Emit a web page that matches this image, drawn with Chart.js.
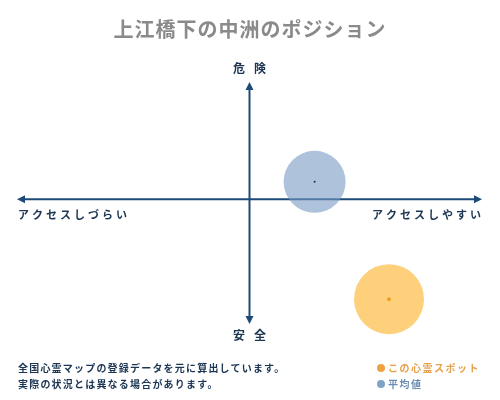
<!DOCTYPE html>
<html>
<head>
<meta charset="utf-8">
<script src="https://cdn.jsdelivr.net/npm/chart.js@4.4.0/dist/chart.umd.min.js"></script>
<style>
  html, body { margin: 0; padding: 0; background: #fff; }
  #wrap { position: relative; width: 500px; height: 400px; font-family: "Noto Sans CJK JP", sans-serif; }
  canvas { position: absolute; left: 0; top: 0; }
  .t { position: absolute; white-space: nowrap; }
  #title { left: 0; width: 500px; top: 14px; text-align: center; font-size: 20px; font-weight: bold; color: #8a8a8a; letter-spacing: 1px; }
  .foot { left: 18px; font-size: 10px; font-weight: bold; color: #1c3553; letter-spacing: 1.2px; }
  .leg { left: 377px; font-size: 10px; font-weight: bold; letter-spacing: 1.5px; }
  .dot { display: inline-block; width: 8px; height: 8px; border-radius: 50%; margin-right: 3px; vertical-align: -0px; }
</style>
</head>
<body>
<div id="wrap">
  <canvas id="c" width="500" height="400"></canvas>
  <div class="t" id="title">上江橋下の中洲のポジション</div>
  <div class="t foot" style="top:360px">全国心霊マップの登録データを元に算出しています。</div>
  <div class="t foot" style="top:376px">実際の状況とは異なる場合があります。</div>
  <div class="t leg" style="top:360px;color:#e9a04c"><span class="dot" style="background:#f0a040"></span>この心霊スポット</div>
  <div class="t leg" style="top:376px;color:#6b8db3"><span class="dot" style="background:#7fa3c8"></span>平均値</div>
</div>
<script>
const seriesNames = ["平均値", "この心霊スポット"];
const accessValues = [2.8, 6.0];    // x: access (negative = hard, positive = easy)
const dangerValues = [1.45, -8.25]; // y: danger (positive = dangerous)
const bubbleSizes = [31, 35];
const axisLabels = { top: "危険", bottom: "安全", left: "アクセスしづらい", right: "アクセスしやすい" };
const fillColors = ["rgba(120,155,195,0.6)", "rgba(254,196,90,0.8)"];
const dotColors = ["#1c2f45", "#f0a020"];

const axisPlugin = {
  id: "axes",
  beforeDatasetsDraw(chart) {
    const ctx = chart.ctx, xs = chart.scales.x, ys = chart.scales.y;
    const cx = xs.getPixelForValue(0), cy = ys.getPixelForValue(0);
    const l = xs.getPixelForValue(xs.min), r = xs.getPixelForValue(xs.max);
    const t = ys.getPixelForValue(ys.max), b = ys.getPixelForValue(ys.min);
    ctx.save();
    ctx.strokeStyle = "#1d4a78"; ctx.fillStyle = "#1d4a78"; ctx.lineWidth = 2;
    ctx.beginPath(); ctx.moveTo(l + 4, cy); ctx.lineTo(r - 4, cy);
    ctx.moveTo(cx, t + 4); ctx.lineTo(cx, b - 4); ctx.stroke();
    const head = (x, y, dx, dy) => {
      const s = 8, w = 4;
      ctx.beginPath();
      ctx.moveTo(x, y);
      ctx.lineTo(x - dx * s - dy * w, y - dy * s - dx * w);
      ctx.lineTo(x - dx * s + dy * w, y - dy * s + dx * w);
      ctx.closePath(); ctx.fill();
    };
    head(r, cy, 1, 0); head(l, cy, -1, 0); head(cx, t, 0, -1); head(cx, b, 0, 1);
    ctx.restore();
  },
  afterDatasetsDraw(chart) {
    const ctx = chart.ctx, xs = chart.scales.x, ys = chart.scales.y;
    const cx = xs.getPixelForValue(0), cy = ys.getPixelForValue(0);
    const l = xs.getPixelForValue(xs.min), r = xs.getPixelForValue(xs.max);
    const t = ys.getPixelForValue(ys.max), b = ys.getPixelForValue(ys.min);
    ctx.save();
    ctx.fillStyle = "#1c3553";
    ctx.textBaseline = "middle";
    ctx.font = "bold 12px 'Noto Sans CJK JP'";
    ctx.letterSpacing = "9px";
    ctx.textAlign = "center";
    ctx.fillText(axisLabels.top, cx + 4.5, t - 14);
    ctx.fillText(axisLabels.bottom, cx + 4.5, b + 11);
    ctx.font = "bold 11px 'Noto Sans CJK JP'";
    ctx.letterSpacing = "3px";
    ctx.textAlign = "left";
    ctx.fillText(axisLabels.left, l + 1, cy + 15);
    ctx.textAlign = "right";
    ctx.fillText(axisLabels.right, r + 2, cy + 15);
    chart.data.datasets.forEach((ds, i) => {
      const p = ds.data[0];
      ctx.fillStyle = dotColors[i];
      ctx.beginPath();
      ctx.arc(xs.getPixelForValue(p.x), ys.getPixelForValue(p.y), i === 0 ? 1 : 2, 0, Math.PI * 2);
      ctx.fill();
    });
    ctx.restore();
  }
};

new Chart(document.getElementById("c"), {
  type: "bubble",
  data: {
    datasets: seriesNames.map((n, i) => ({
      label: n,
      data: [{ x: accessValues[i], y: dangerValues[i], r: bubbleSizes[i] }],
      backgroundColor: fillColors[i],
      borderWidth: 0,
      hoverRadius: 0,
      clip: false
    }))
  },
  options: {
    responsive: false,
    animation: false,
    devicePixelRatio: 1,
    layout: { autoPadding: false, padding: { left: 17, right: 18, top: 82, bottom: 76 } },
    scales: {
      x: { display: false, min: -10, max: 10 },
      y: { display: false, min: -10.3, max: 9.7 }
    },
    plugins: { legend: { display: false }, tooltip: { enabled: false } }
  },
  plugins: [axisPlugin]
});
</script>
</body>
</html>
